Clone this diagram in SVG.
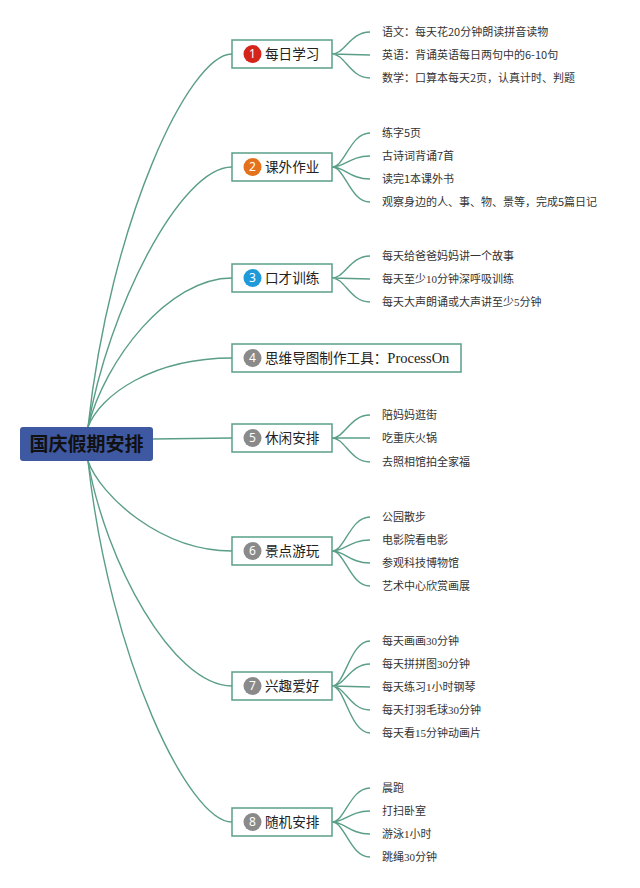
<svg xmlns="http://www.w3.org/2000/svg" width="640" height="888" viewBox="0 0 640 888">
<style>
.ln{fill:none;stroke:#5a9e88;stroke-width:1.4}
.box{fill:#fff;stroke:#5a9e88;stroke-width:1.5}
.nt{font-family:"Noto Sans CJK SC","Noto Sans",sans-serif;font-size:13.6px;fill:#222}
.lf{font-family:"Noto Sans CJK SC","Noto Sans",sans-serif;font-size:11px;fill:#333}
.sf{font-family:"Liberation Serif",serif}
.num{font-family:"Noto Sans","Liberation Sans",sans-serif;font-size:12px;fill:#fff;text-anchor:middle}
.root{font-family:"Noto Sans CJK SC",sans-serif;font-size:19px;font-weight:bold;fill:#111;text-anchor:middle}
</style>
<rect width="640" height="888" fill="#fff"/>
<g id="connectors">
<path class="ln" d="M88,427 C110,222 189,54 232,54"/>
<path class="ln" d="M88,427 C108,310 180,167 232,167"/>
<path class="ln" d="M88,427 C105,360 168,278 232,278"/>
<path class="ln" d="M88,427 C100,395 153,358 232,358"/>
<path class="ln" d="M153,439 L232,438"/>
<path class="ln" d="M88,461 C100,495 160,551 232,551"/>
<path class="ln" d="M88,461 C105,560 172,686 232,686"/>
<path class="ln" d="M88,461 C110,660 189,822 232,822"/>
<path class="ln" d="M332,54 C345,54 350,32 370,32 M332,54 L370,55 M332,54 C345,54 350,78 370,78"/>
<path class="ln" d="M332,167 C345,167 350,133 370,133 M332,167 C345,167 350,156 370,156 M332,167 C345,167 350,179 370,179 M332,167 C345,167 350,202 370,202"/>
<path class="ln" d="M332,278 C345,278 350,256 370,256 M332,278 L370,279 M332,278 C345,278 350,302 370,302"/>
<path class="ln" d="M332,438 C345,438 350,415 370,415 M332,438 L370,438 M332,438 C345,438 350,462 370,462"/>
<path class="ln" d="M332,551 C345,551 350,517 370,517 M332,551 C345,551 350,540 370,540 M332,551 C345,551 350,563 370,563 M332,551 C345,551 350,586 370,586"/>
<path class="ln" d="M332,686 C345,686 350,641 370,641 M332,686 C345,686 350,664 370,664 M332,686 L370,687 M332,686 C345,686 350,710 370,710 M332,686 C345,686 350,733 370,733"/>
<path class="ln" d="M332,822 C345,822 350,788 370,788 M332,822 C345,822 350,811 370,811 M332,822 C345,822 350,834 370,834 M332,822 C345,822 350,857 370,857"/>
</g>
<g id="root">
<rect x="20" y="427" width="133" height="34" rx="3" fill="#3f58a2"/>
<text class="root" x="86.5" y="451">国庆假期安排</text>
</g>
<g id="n1">
<rect class="box" x="232" y="40" width="100" height="28"/>
<circle cx="252.5" cy="54" r="9" fill="#d4251b"/><text class="num" x="252.5" y="58.3">1</text>
<text class="nt" x="265" y="59">每日学习</text>
<text class="lf" x="382" y="36">语文：每天花20分钟朗读拼音读物</text>
<text class="lf" x="382" y="59">英语：背诵英语每日两句中的6-10句</text>
<text class="lf" x="382" y="82">数学：口算本每天2页，认真计时、判题</text>
</g>
<g id="n2">
<rect class="box" x="232" y="153" width="100" height="28"/>
<circle cx="252.5" cy="167" r="9" fill="#e4711b"/><text class="num" x="252.5" y="171.3">2</text>
<text class="nt" x="265" y="172">课外作业</text>
<text class="lf" x="382" y="137">练字5页</text>
<text class="lf" x="382" y="160">古诗词背诵7首</text>
<text class="lf" x="382" y="183">读完1本课外书</text>
<text class="lf" x="382" y="206">观察身边的人、事、物、景等，完成5篇日记</text>
</g>
<g id="n3">
<rect class="box" x="232" y="264" width="100" height="28"/>
<circle cx="252.5" cy="278" r="9" fill="#1f9ad8"/><text class="num" x="252.5" y="282.3">3</text>
<text class="nt" x="265" y="283">口才训练</text>
<text class="lf" x="382" y="260">每天给爸爸妈妈讲一个故事</text>
<text class="lf" x="382" y="283">每天至少<tspan class="sf">10</tspan>分钟深呼吸训练</text>
<text class="lf" x="382" y="306">每天大声朗诵或大声讲至少<tspan class="sf">5</tspan>分钟</text>
</g>
<g id="n4">
<rect class="box" x="232" y="344" width="229" height="28"/>
<circle cx="252.5" cy="358" r="9" fill="#8a8a8a"/><text class="num" x="252.5" y="362.3">4</text>
<text class="nt" x="265" y="363">思维导图制作工具：<tspan class="sf" font-size="14.5">ProcessOn</tspan></text>
</g>
<g id="n5">
<rect class="box" x="232" y="424" width="100" height="28"/>
<circle cx="252.5" cy="438" r="9" fill="#8a8a8a"/><text class="num" x="252.5" y="442.3">5</text>
<text class="nt" x="265" y="443">休闲安排</text>
<text class="lf" x="382" y="419">陪妈妈逛街</text>
<text class="lf" x="382" y="442">吃重庆火锅</text>
<text class="lf" x="382" y="466">去照相馆拍全家福</text>
</g>
<g id="n6">
<rect class="box" x="232" y="537" width="100" height="28"/>
<circle cx="252.5" cy="551" r="9" fill="#8a8a8a"/><text class="num" x="252.5" y="555.3">6</text>
<text class="nt" x="265" y="556">景点游玩</text>
<text class="lf" x="382" y="521">公园散步</text>
<text class="lf" x="382" y="544">电影院看电影</text>
<text class="lf" x="382" y="567">参观科技博物馆</text>
<text class="lf" x="382" y="590">艺术中心欣赏画展</text>
</g>
<g id="n7">
<rect class="box" x="232" y="672" width="100" height="28"/>
<circle cx="252.5" cy="686" r="9" fill="#8a8a8a"/><text class="num" x="252.5" y="690.3">7</text>
<text class="nt" x="265" y="691">兴趣爱好</text>
<text class="lf" x="382" y="645">每天画画<tspan class="sf">30</tspan>分钟</text>
<text class="lf" x="382" y="668">每天拼拼图<tspan class="sf">30</tspan>分钟</text>
<text class="lf" x="382" y="691">每天练习<tspan class="sf">1</tspan>小时钢琴</text>
<text class="lf" x="382" y="714">每天打羽毛球<tspan class="sf">30</tspan>分钟</text>
<text class="lf" x="382" y="737">每天看<tspan class="sf">15</tspan>分钟动画片</text>
</g>
<g id="n8">
<rect class="box" x="232" y="808" width="100" height="28"/>
<circle cx="252.5" cy="822" r="9" fill="#8a8a8a"/><text class="num" x="252.5" y="826.3">8</text>
<text class="nt" x="265" y="827">随机安排</text>
<text class="lf" x="382" y="792">晨跑</text>
<text class="lf" x="382" y="815">打扫卧室</text>
<text class="lf" x="382" y="838">游泳<tspan class="sf">1</tspan>小时</text>
<text class="lf" x="382" y="861">跳绳<tspan class="sf">30</tspan>分钟</text>
</g>
</svg>
